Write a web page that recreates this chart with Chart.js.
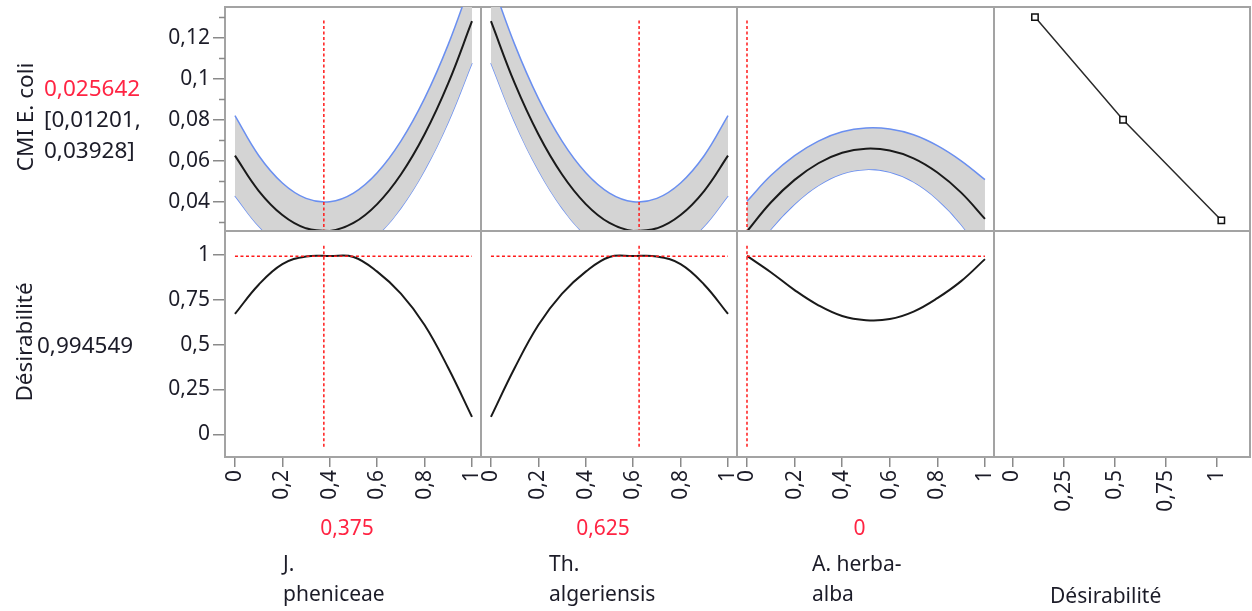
<!DOCTYPE html>
<html>
<head>
<meta charset="utf-8">
<script src="https://cdn.jsdelivr.net/npm/chart.js@4.4.1/dist/chart.umd.min.js"></script>
<style>
  body { margin: 0; background: #fff; width: 1252px; height: 611px; position: relative; overflow: hidden;
         font-family: "Noto Sans", "Open Sans", sans-serif; }
  canvas { position: absolute; }
  .lbl { position: absolute; font-size: 21px; line-height: 26px; height: 26px; color: #1c1c28; white-space: nowrap; }
  .big { font-size: 22.5px; }
  .red { color: #ff2443; }
</style>
</head>
<body>
<script>
const xGrid = [0, 0.1, 0.2, 0.3, 0.4, 0.5, 0.6, 0.7, 0.8, 0.9, 1];

// J. pheniceae
const cmiJ   = [0.0625, 0.0454, 0.0336, 0.0271, 0.0258, 0.0297, 0.0389, 0.0533, 0.0729, 0.0978, 0.1280];
const cmiJHi = [0.0820, 0.0626, 0.0492, 0.0417, 0.0401, 0.0443, 0.0542, 0.0696, 0.0904, 0.1167, 0.1484];
const cmiJLo = [0.0430, 0.0282, 0.0180, 0.0125, 0.0115, 0.0151, 0.0236, 0.0370, 0.0554, 0.0789, 0.1076];
const desJ   = [0.672, 0.835, 0.950, 0.993, 0.995, 0.990, 0.908, 0.785, 0.610, 0.370, 0.097];

// Th. algeriensis
const cmiT   = [0.1280, 0.0978, 0.0729, 0.0533, 0.0389, 0.0297, 0.0258, 0.0271, 0.0336, 0.0454, 0.0625];
const cmiTHi = [0.1484, 0.1167, 0.0904, 0.0696, 0.0542, 0.0443, 0.0401, 0.0417, 0.0492, 0.0626, 0.0820];
const cmiTLo = [0.1076, 0.0789, 0.0554, 0.0370, 0.0236, 0.0151, 0.0115, 0.0125, 0.0180, 0.0282, 0.0430];
const desT   = [0.097, 0.370, 0.610, 0.785, 0.908, 0.990, 0.995, 0.993, 0.950, 0.835, 0.672];

// A. herba-alba
const cmiA   = [0.0256, 0.0397, 0.0507, 0.0588, 0.0639, 0.0659, 0.0650, 0.0612, 0.0543, 0.0445, 0.0317];
const cmiAHi = [0.0403, 0.0528, 0.0625, 0.0696, 0.0741, 0.0760, 0.0755, 0.0727, 0.0674, 0.0600, 0.0508];
const cmiALo = [0.0109, 0.0266, 0.0389, 0.0480, 0.0537, 0.0558, 0.0545, 0.0497, 0.0412, 0.0290, 0.0126];
const desA   = [0.996, 0.905, 0.805, 0.720, 0.660, 0.637, 0.643, 0.685, 0.760, 0.855, 0.978];

// desirability function (x = desirability, y = CMI)
const desFnX = [0.11, 0.54, 1.02];
const desFnY = [0.130, 0.080, 0.031];

const factorNames = [["J.", "pheniceae"], ["Th.", "algeriensis"], ["A. herba-", "alba"]];
const currentX = [0.375, 0.625, 0];
const predicted = 0.025642;
const ciLow = 0.01201, ciHigh = 0.03928;
const desirability = 0.994549;

const cmiTicks = [0.04, 0.06, 0.08, 0.1, 0.12];
const cmiMinorTicks = [0.03, 0.05, 0.07, 0.09, 0.11, 0.13];
const desTicks = [0, 0.25, 0.5, 0.75, 1];
const factorTicks = [0, 0.2, 0.4, 0.6, 0.8, 1];

// --- layout ---
const W = 1252, H = 611;
const colX = [225, 481, 737, 994, 1250];
const rowY = [7, 231, 457];
const cmiRange = { min: 0.0258, max: 0.1349 };
const desRange = { min: -0.127, max: 1.135 };
const factorRange = { min: -0.042, max: 1.038 };
const desAxisRange = { min: -0.09, max: 1.16 };

const FONT = { family: '"Noto Sans", "Open Sans", sans-serif', size: 21 };
const TEXT = '#1c1c28';
const RED = '#ff1a1a';
const fmt = v => String(v).replace('.', ',');
const pts = (xs, ys) => xs.map((x, i) => ({ x, y: ys[i] }));

// grey frame round each profiler cell
const panelBorder = {
  id: 'panelBorder',
  beforeDatasetsDraw(chart) {
    const { ctx, chartArea: a } = chart;
    ctx.save();
    ctx.strokeStyle = '#a3a3a3';
    ctx.lineWidth = 2;
    ctx.strokeRect(a.left, a.top, a.right - a.left, a.bottom - a.top);
    ctx.restore();
  }
};

// short ticks between the labelled ones on the CMI axis
const minorTicks = {
  id: 'minorTicks',
  afterDraw(chart) {
    const s = chart.scales.y;
    const ctx = chart.ctx;
    ctx.save();
    ctx.strokeStyle = '#8a8a8a';
    ctx.lineWidth = 1.5;
    cmiMinorTicks.forEach(v => {
      const py = Math.round(s.getPixelForValue(v)) + 0.5;
      ctx.beginPath();
      ctx.moveTo(s.right - 6, py);
      ctx.lineTo(s.right, py);
      ctx.stroke();
    });
    ctx.restore();
  }
};

function axis(range, ticks, show, vertical) {
  return {
    type: 'linear',
    min: range.min,
    max: range.max,
    display: show,
    afterBuildTicks: s => { s.ticks = ticks.map(v => ({ value: v })); },
    afterFit: s => {
      if (!show) return;
      // fixed axis sizes so all the cells line up
      if (vertical) { s.width = colX[0]; s.paddingTop = 0; s.paddingBottom = 0; }
      else { s.height = H - rowY[2]; s.paddingLeft = 0; s.paddingRight = 0; }
    },
    border: { display: false },
    grid: { drawOnChartArea: false, tickLength: vertical ? 12 : 10, color: '#8a8a8a', lineWidth: 1.5 },
    ticks: {
      autoSkip: false, font: FONT, color: TEXT, padding: 3,
      minRotation: vertical ? 0 : 90, maxRotation: vertical ? 0 : 90,
      callback: v => fmt(v)
    }
  };
}

function redLine(data, alpha) {
  return {
    data, borderColor: alpha ? 'rgba(255,40,60,' + alpha + ')' : RED, borderWidth: 1.5,
    borderDash: [3, 2.5], pointRadius: 0, fill: false, tension: 0
  };
}

function panel(row, col, datasets, xScale, yScale, extra) {
  const left = col === 0 ? 0 : colX[col] - 1;
  const right = Math.min(colX[col + 1] + 1, W);
  const top = row === 0 ? 0 : rowY[1] - 1;
  const bottom = row === 1 ? H : rowY[1] + 1;
  const cv = document.createElement('canvas');
  cv.width = right - left;
  cv.height = bottom - top;
  cv.style.left = left + 'px';
  cv.style.top = top + 'px';
  document.body.appendChild(cv);
  return new Chart(cv, {
    type: 'line',
    data: { datasets },
    options: {
      responsive: false,
      animation: false,
      events: [],
      layout: {
        autoPadding: false,
        padding: {
          left: col === 0 ? 0 : 1,
          right: right - colX[col + 1],
          top: row === 0 ? rowY[0] : 1,
          bottom: row === 1 ? 0 : 1
        }
      },
      plugins: { legend: { display: false }, tooltip: { enabled: false } },
      scales: { x: xScale, y: yScale }
    },
    plugins: [panelBorder].concat(extra || [])
  });
}

// --- factor columns ---
const profiles = [
  [cmiJ, cmiJHi, cmiJLo, desJ],
  [cmiT, cmiTHi, cmiTLo, desT],
  [cmiA, cmiAHi, cmiALo, desA]
];

profiles.forEach(([mean, hi, lo, des], c) => {
  const cur = currentX[c];
  const cmiSpan = cmiRange.max - cmiRange.min;
  const desSpan = desRange.max - desRange.min;

  panel(0, c, [
    redLine([{ x: cur, y: cmiRange.max - 0.06 * cmiSpan }, { x: cur, y: cmiRange.min }]),
    redLine(pts([0, 1], [predicted, predicted]), 0.45),
    { data: pts(xGrid, mean), borderColor: '#1a1a1a', borderWidth: 2, pointRadius: 0, tension: 0.4, fill: false },
    { data: pts(xGrid, hi), borderColor: '#6a8ff0', borderWidth: 1.5, pointRadius: 0, tension: 0.4,
      fill: '+1', backgroundColor: '#d4d4d4' },
    { data: pts(xGrid, lo), borderColor: '#6a8ff0', borderWidth: 1.5, pointRadius: 0, tension: 0.4, fill: false }
  ], axis(factorRange, factorTicks, false, false), axis(cmiRange, cmiTicks, c === 0, true),
  c === 0 ? [minorTicks] : []);

  panel(1, c, [
    redLine([{ x: cur, y: desRange.max - 0.065 * desSpan }, { x: cur, y: desRange.min + 0.04 * desSpan }]),
    redLine(pts([0, 1], [desirability, desirability])),
    { data: pts(xGrid, des), borderColor: '#1a1a1a', borderWidth: 2, pointRadius: 0, tension: 0.4, fill: false }
  ], axis(factorRange, factorTicks, true, false), axis(desRange, desTicks, c === 0, true));
});

// --- desirability column ---
panel(0, 3, [
  redLine(pts([0.05, 1.01], [predicted, predicted]), 0.45),
  { data: pts(desFnX, desFnY), borderColor: '#2a2a2a', borderWidth: 1.5, tension: 0,
    pointStyle: 'rect', pointRadius: 4.5, pointBackgroundColor: '#fff', pointBorderColor: '#111', pointBorderWidth: 1.5 }
], axis(desAxisRange, desTicks, false, false), axis(cmiRange, cmiTicks, false, true));

panel(1, 3, [], axis(desAxisRange, desTicks, true, false), axis(desRange, desTicks, false, true));

// --- text labels ---
function label(text, x, y, cls, anchor) {
  const d = document.createElement('div');
  d.className = 'lbl ' + (cls || '');
  d.textContent = text;
  d.style.left = x + 'px';
  d.style.top = (y - 13) + 'px';
  document.body.appendChild(d);
  if (anchor === 'center') d.style.transform = 'translateX(-50%)';
  if (anchor === 'rot') { d.style.top = y + 'px'; d.style.transform = 'translate(-50%, -50%) rotate(-90deg)'; }
  return d;
}

label('CMI E. coli', 25, 117, 'big', 'rot');
label(fmt(predicted), 44, 88, 'red big');
label('[' + fmt(ciLow) + ',', 44, 119, 'big');
label(fmt(ciHigh) + ']', 44, 150, 'big');
label('Désirabilité', 24, 342, 'big', 'rot');
label(fmt(desirability), 37, 345, 'big');

const nameX = [283, 549, 812];
currentX.forEach((v, c) => {
  label(fmt(v), (colX[c] + colX[c + 1]) / 2 - 6, 527, 'red', 'center');
  label(factorNames[c][0], nameX[c], 563);
  label(factorNames[c][1], nameX[c], 593);
});
label('Désirabilité', 1050, 595);
</script>
</body>
</html>
